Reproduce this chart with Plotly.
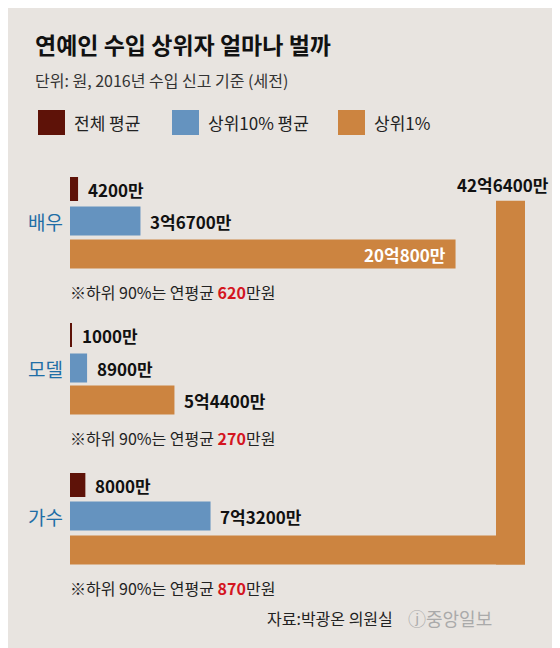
import plotly.graph_objects as go

categories = ["배우", "모델", "가수"]
overall_avg = [0.42, 0.10, 0.80]        # 억원
top10_avg = [3.67, 0.89, 7.32]
top1 = [20.08, 5.44, 42.64]
overall_lbl = ["4200만", "1000만", "8000만"]
top10_lbl = ["3억6700만", "8900만", "7억3200만"]
top1_lbl = ["20억800만", "5억4400만", "42억6400만"]
bottom90 = ["620", "270", "870"]
series_names = ["전체 평균", "상위10% 평균", "상위1%"]
colors = ["#5e1208", "#6593bf", "#cc8440"]

OFF = 8               # page body margin
W, H = 560 - OFF, 648 - OFF
X0 = 70
PX = 19.2            # pixels per 억
CAP = (525 - X0) / PX  # where the long bar bends
F = "Noto Sans CJK KR"

centers = [(189, 221, 254), (335, 368, 400), (485, 516, 550)]
thick = [24, 29, 29]

def px(x):
    return (x - OFF) / W

fig = go.Figure()
for si, (vals, col) in enumerate(zip([overall_avg, top10_avg, top1], colors)):
    xs = [min(v, CAP) for v in vals]
    ys = [c[si] for c in centers]
    fig.add_bar(x=xs, y=ys, orientation="h", width=thick[si], marker=dict(color=col, line_width=0),
                showlegend=False, hoverinfo="skip")

ann = []
def A(x, y, t, size=15, color="#111", xa="left", bold=False, xref="paper"):
    if bold:
        t = "<b>" + t + "</b>"
    ann.append(dict(x=x, y=y, xref=xref, yref="y", text=t, showarrow=False, xanchor=xa, yanchor="middle",
                    font=dict(family=F, size=size, color=color)))

shapes = []
for gi in range(3):
    for si, vals in enumerate([overall_avg, top10_avg, top1]):
        v = vals[gi]
        c = centers[gi][si]
        lbl = [overall_lbl, top10_lbl, top1_lbl][si][gi]
        if v > CAP:
            rem = v - CAP
            bottom = c + thick[si] / 2
            shapes.append(dict(type="rect", xref="x", yref="y", x0=CAP - thick[si] / PX, x1=CAP,
                               y0=bottom, y1=bottom - rem * PX, fillcolor=colors[si], line_width=0, layer="below"))
            A(px(551), bottom - rem * PX - 16, lbl, 17, "#111", "right", True)
        elif si == 2 and v > 10:
            A(v - 0.4, c, lbl, 17, "white", "right", True, xref="x")
        else:
            A(v + 0.4, c, lbl, 17, "#111", "left", True, xref="x")
    A(px(45), centers[gi][1], categories[gi], 19, "#1f6ea6", "center")
    A(px(68), centers[gi][2] + 38, "※하위 90%는 연평균 <span style='color:#d4151f'><b>" + bottom90[gi] + "</b></span>만원", 16, "#222")

def P(x, y, t, size, color="#111", xa="left"):
    ann.append(dict(x=px(x), y=y, xref="paper", yref="y", text=t, showarrow=False, xanchor=xa, yanchor="middle",
                    font=dict(family=F, size=size, color=color)))
P(33, 44, "<b>연예인 수입 상위자 얼마나 벌까</b>", 23)
P(33, 80, "단위: 원, 2016년 수입 신고 기준 (세전)", 16, "#333")
lx = [38, 172, 338]
for i, n in enumerate(series_names):
    shapes.append(dict(type="rect", xref="paper", yref="y", x0=px(lx[i]), x1=px(lx[i] + 27), y0=110, y1=135,
                       fillcolor=colors[i], line_width=0))
    P(lx[i] + 34, 122, n, 17, "#222")
P(395, 618, "자료:박광온 의원실", 16, "#222", "right")
P(406, 618, "ⓙ중앙일보", 18, "#aaa")

fig.update_layout(width=W, height=H, margin=dict(l=0, r=0, t=0, b=0),
                  paper_bgcolor="#e8e4e0", plot_bgcolor="#e8e4e0", barmode="overlay",
                  xaxis=dict(domain=[px(X0), 1], range=[0, (560 - X0) / PX], visible=False, fixedrange=True),
                  yaxis=dict(range=[648, OFF], visible=False, fixedrange=True),
                  annotations=ann, shapes=shapes)
fig.write_html("out.html")
